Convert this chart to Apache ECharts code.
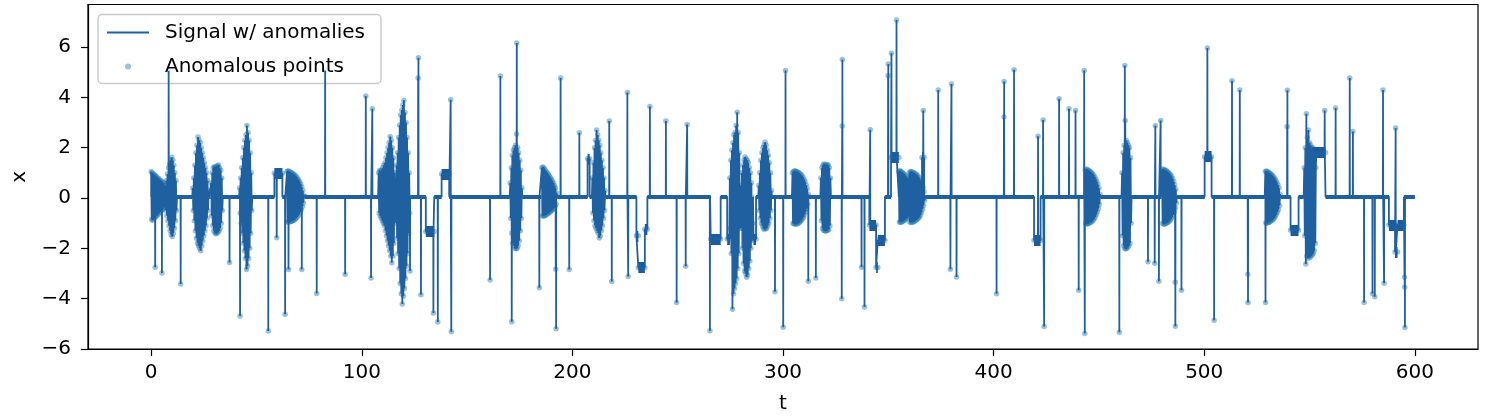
<!DOCTYPE html>
<html><head><meta charset="utf-8">
<script src="https://cdn.jsdelivr.net/npm/echarts@6/dist/echarts.min.js"></script>
<style>html,body{margin:0;padding:0;background:#fff}#c{width:1488px;height:416px}</style>
</head><body><div id="c"></div>
<script>
// ---------------- data ----------------
const xTicks = [0, 100, 200, 300, 400, 500, 600];
const yTicks = [-6, -4, -2, 0, 2, 4, 6];
const signalStart = 0, signalEnd = 600;
const baselineLevel = 0.05;

// isolated spikes (time, value)
const spikeT = [1.9,5.1,8.3,14.0,37.2,42.2,55.6,59.6,63.6,65.2,71.5,78.6,82.6,92.1,101.9,104.4,105.0,122.9,126.75,126.9,128.1,134.0,136.1,142.2,142.5,160.9,165.8,171.2,173.6,184.3,192.1,192.25,194.4,198.5,203.3,217.5,218.7,226.1,226.5,236.8,244.4,249.5,253.8,254.5,265.3,296.2,300.1,301.2,312.0,315.6,327.9,328.1,328.2,337.3,338.7,341.4,349.9,350.0,351.5,353.9,366.6,373.7,379.5,380.0,382.4,401.4,404.9,405.0,409.7,421.1,423.5,424.0,431.1,435.8,438.9,440.4,443.0,443.3,459.7,462.3,473.3,476.5,476.8,478.5,479.3,486.2,486.3,489.2,501.5,504.7,513.2,516.9,520.7,520.8,529.1,539.4,539.5,557.2,562.4,569.1,570.6,575.9,579.9,581.0,584.9,585.4,590.9,595.1,595.2,595.3];
const spikeV = [-2.75,-2.98,5.06,-3.42,-2.56,-4.69,-5.28,-1.58,-4.62,-2.84,-2.84,-3.79,5.07,-3.03,4.05,-3.18,3.55,-2.9,4.77,5.57,-3.84,-4.57,-4.93,3.9,-5.31,-3.26,4.85,-4.92,6.16,-3.57,-2.83,-5.2,4.77,-2.84,2.59,3.06,-3.32,4.19,-3.12,3.64,3.06,-4.15,-2.71,2.92,-5.27,-3.72,-5.14,5.07,-3.31,-3.18,-4.0,2.86,5.5,-2.75,-4.33,2.71,4.86,5.33,5.75,7.07,3.48,4.29,-2.83,4.53,-3.14,-3.8,3.22,4.63,5.1,2.45,3.1,-5.11,3.94,3.55,3.48,-3.67,5.07,-5.38,-5.33,5.27,-2.53,-2.59,2.87,-3.31,3.08,-3.35,-5.1,-3.67,5.96,-4.86,4.66,4.29,-3.03,-4.15,-4.15,2.84,4.28,3.48,3.58,4.77,2.64,-4.15,-3.8,-3.92,4.29,-3.39,2.78,-3.15,-3.55,-5.15];

// level shifts (start, end, level)
const levelStart = [58.5,130.4,137.9,207.2,230.4,231.3,234.4,265.7,273.5,286.0,341.0,344.2,345.0,351.3,366.0,419.2,500.2,541.0,551.2,587.7,590.6,591.8];
const levelEnd   = [62.3,134.4,141.5,208.2,231.3,234.4,235.6,270.4,274.8,287.2,344.2,345.0,348.4,355.0,367.0,422.3,503.5,544.8,557.6,590.6,591.8,594.8];
const levelValue = [0.98,-1.33,0.95,1.56,-1.5,-2.77,-1.24,-1.63,-1.63,-1.63,-1.07,-2.76,-1.68,1.61,1.61,-1.68,1.64,-1.28,1.81,-1.07,-2.15,-1.07];

// oscillating bursts: start time, sample step, sampled values
const burstStart = [0,6.75,19.75,28.5,42.0,64.5,108.0,116.0,170.5,185.5,209.5,274.75,280.0,288.5,304.5,318.0,355.0,443.5,461.0,480.0,529.0,547.5];
const burstStep = 0.25;
const burstValues = [
 [1.05,-0.85,1.0,-0.88,0.95,-0.8,0.92,-0.78,0.88,-0.72,0.85,-0.7,0.8,-0.65,0.78,-0.6,0.72,-0.55,0.7,-0.5,0.66,-0.46,0.62,-0.42,0.6,-0.38,0.3],
 [0.5,-0.5,0.7,-0.7,0.95,-0.9,1.2,-1.1,1.35,-1.3,1.5,-1.45,1.62,-1.53,1.5,-1.4,1.3,-1.2,1.0,-0.9,0.7,-0.5],
 [0.4,-0.5,0.8,-0.9,1.3,-1.3,1.8,-1.6,2.1,-1.8,2.42,-1.9,2.3,-2.0,2.2,-2.1,2.0,-1.9,1.8,-1.7,1.6,-1.5,1.4,-1.3,1.2,-1.1,1.0,-0.8,0.7,-0.5,0.3],
 [0.6,-0.7,1.0,-1.1,1.2,-1.3,1.25,-1.38,1.2,-1.42,1.25,-1.4,1.28,-1.35,1.31,-1.3,1.2,-1.2,1.1,-1.0,0.8,-0.5],
 [0.4,-0.6,0.8,-1.0,1.2,-1.4,1.6,-1.8,2.0,-2.1,2.3,-2.4,2.5,-2.84,2.88,-2.7,2.6,-2.4,2.3,-2.0,1.8,-1.4,1.0,-0.5],
 [1.05,-0.95,1.08,-0.95,1.05,-0.94,1.03,-0.93,1.0,-0.92,0.98,-0.9,0.95,-0.88,0.92,-0.85,0.88,-0.8,0.84,-0.76,0.78,-0.7,0.72,-0.64,0.65,-0.56,0.56,-0.46,0.45,-0.34,0.3,-0.2,0.1],
 [1.0,-0.6,1.1,-0.7,1.08,-0.8,1.1,-0.9,1.2,-1.0,1.3,-1.1,1.4,-1.3,1.6,-1.5,1.8,-1.7,2.0,-1.9,2.2,-2.1,2.44,-2.3,2.3,-2.57,2.0,-2.3,1.6,-1.8,1.0,-0.8],
 [0.8,-1.0,1.3,-1.6,1.8,-2.2,2.4,-2.8,2.9,-3.4,3.3,-3.8,3.5,-4.21,3.7,-3.9,3.88,-3.6,3.4,-3.2,3.0,-2.7,2.4,-2.2,1.8,-1.4,1.0,-0.6],
 [0.6,-0.8,1.2,-1.4,1.7,-1.8,1.9,-1.9,2.0,-2.0,2.1,-2.02,2.54,-2.0,2.0,-1.9,1.8,-1.7,1.5,-1.3,1.1,-0.8,0.4],
 [1.2,-0.7,1.23,-0.72,1.18,-0.7,1.12,-0.68,1.06,-0.66,1.0,-0.63,0.95,-0.6,0.88,-0.57,0.82,-0.53,0.75,-0.5,0.68,-0.45,0.6,-0.4,0.5,-0.33,0.4,-0.25,0.2],
 [0.8,-0.6,1.4,-0.9,2.0,-1.1,2.3,-1.2,2.7,-1.3,2.5,-1.4,2.3,-1.59,2.1,-1.5,1.8,-1.3,1.5,-1.1,1.2,-0.8,0.8,-0.5,0.3],
 [0.8,-1.2,1.5,-2.2,1.9,-4.42,2.2,-3.8,2.5,-3.6,2.6,-3.4,2.88,-3.2,3.41,-2.8,2.6,-2.2,1.8,-1.2],
 [0.5,-1.2,1.0,-2.0,1.3,-2.6,1.5,-2.9,1.63,-3.0,1.55,-3.15,1.5,-3.05,1.4,-2.8,1.2,-2.5,1.0,-2.0,0.6,-1.7,-1.0],
 [0.5,-0.5,1.0,-0.8,1.5,-1.0,1.8,-1.1,2.0,-1.2,2.1,-1.25,2.22,-1.2,2.1,-1.2,1.9,-1.1,1.7,-1.0,1.4,-0.8,1.0,-0.5,0.3],
 [1.0,-1.0,1.05,-1.02,1.08,-1.04,1.06,-1.03,1.05,-1.02,1.03,-1.0,1.0,-0.97,0.97,-0.93,0.93,-0.88,0.88,-0.82,0.82,-0.75,0.74,-0.66,0.65,-0.55,0.52,-0.42,0.38,-0.25,0.15],
 [0.8,-0.9,1.2,-1.2,1.3,-1.28,1.35,-1.3,1.32,-1.31,1.3,-1.3,1.33,-1.28,1.3,-1.25,1.2,-1.1,0.8],
 [1.05,-0.95,1.09,-0.97,1.05,-0.95,1.02,-0.93,0.98,-0.9,0.95,-0.88,0.9,-0.84,0.86,-0.8,0.8,-0.76,0.75,-0.72,1.0,-0.95,1.05,-0.97,1.04,-0.96,1.02,-0.95,1.0,-0.93,0.98,-0.9,0.95,-0.87,0.92,-0.84,0.88,-0.8,0.82,-0.75,0.75,-0.68,0.66,-0.58,0.55,-0.45,0.42,-0.3,0.25,-0.1],
 [1.1,-1.0,1.15,-1.04,1.12,-1.02,1.1,-1.0,1.07,-0.98,1.04,-0.95,1.0,-0.92,0.95,-0.88,0.9,-0.82,0.83,-0.75,0.75,-0.66,0.66,-0.55,0.55,-0.42,0.4,-0.25,0.15],
 [1.0,-1.5,1.8,-1.9,2.1,-2.0,3.08,-2.03,2.29,-2.0,2.2,-1.95,2.1,-1.9,2.0,-1.8,1.6,-1.0],
 [1.1,-1.0,1.15,-1.04,1.12,-1.03,1.1,-1.01,1.08,-0.99,1.05,-0.96,1.01,-0.93,0.97,-0.88,0.92,-0.83,0.85,-0.76,0.77,-0.67,0.66,-0.55,0.52,-0.4,0.35,-0.2],
 [1.05,-0.98,1.07,-1.0,1.05,-0.98,1.02,-0.96,0.99,-0.94,0.96,-0.91,0.92,-0.88,0.88,-0.84,0.83,-0.79,0.77,-0.73,0.7,-0.66,0.62,-0.57,0.52,-0.46,0.4,-0.3,0.15],
 [1.2,-1.5,2.0,-2.62,3.35,-2.3,2.4,-2.4,2.7,-2.3,2.2,-2.35,2.1,-2.3,2.0,-2.25,2.0,-2.2,1.9,-2.1,1.8,-1.8,1.2]
];

// ---------------- build series from the data ----------------
const LINE_COLOR = '#1f60a0';
const DOT_COLOR = '#1f77b4';
const FONT = 'DejaVu Sans';

function levelAt(t) {
  for (let i = 0; i < levelStart.length; i++) {
    if (t >= levelStart[i] && t <= levelEnd[i]) return levelValue[i];
  }
  return baselineLevel;
}

const pts = [];
const anomalies = [];
const busy = [];
pts.push([signalStart, baselineLevel]);

for (let i = 0; i < levelStart.length; i++) {
  const a = levelStart[i], b = levelEnd[i], L = levelValue[i];
  const contPrev = i > 0 && Math.abs(levelEnd[i - 1] - a) < 1e-9;
  const contNext = i < levelStart.length - 1 && Math.abs(levelStart[i + 1] - b) < 1e-9;
  if (!contPrev) pts.push([a, baselineLevel]);
  pts.push([a, L], [b, L]);
  if (!contNext) pts.push([b, baselineLevel]);
  anomalies.push([a, L], [b, L]);
  busy.push([a, b]);
}

burstStart.forEach((t0, k) => {
  const vals = burstValues[k];
  const tLast = t0 + (vals.length - 1) * burstStep;
  const pre = t0 - burstStep, post = tLast + burstStep;
  if (pre >= signalStart) pts.push([pre, levelAt(pre)]);
  vals.forEach((v, i) => {
    const t = t0 + i * burstStep;
    pts.push([t, v]);
    anomalies.push([t, v]);
  });
  pts.push([post, levelAt(post)]);
  busy.push([Math.max(signalStart, pre), post]);
});

spikeT.forEach((t, i) => {
  const b = levelAt(t);
  pts.push([t - 0.06, b], [t, spikeV[i]], [t + 0.06, b]);
  anomalies.push([t, spikeV[i]]);
});

pts.push([signalEnd, baselineLevel]);
pts.sort((p, q) => p[0] - q[0]);

// baseline stretches = time not covered by bursts or level shifts
busy.sort((p, q) => p[0] - q[0]);
const baseSegs = [];
let cur = signalStart;
busy.forEach(([a, b]) => {
  if (a > cur) baseSegs.push({ coords: [[cur, baselineLevel], [a, baselineLevel]] });
  cur = Math.max(cur, b);
});
if (cur < signalEnd) baseSegs.push({ coords: [[cur, baselineLevel], [signalEnd, baselineLevel]] });

const levelSegs = levelStart.map((a, i) => ({ coords: [[a, levelValue[i]], [levelEnd[i], levelValue[i]]] }));

const minus = v => String(v).replace('-', '\u2212');

const chart = echarts.init(document.getElementById('c'), null, { renderer: 'canvas' });
chart.setOption({
  animation: false,
  backgroundColor: '#ffffff',
  grid: { left: 88, right: 10, top: 4.5, bottom: 67, containLabel: false, outerBoundsMode: 'none',
          show: true, borderColor: '#000', borderWidth: 1.2, backgroundColor: 'transparent' },
  xAxis: {
    type: 'value', min: -30, max: 630,
    name: 't', nameLocation: 'middle', nameGap: 45,
    nameTextStyle: { fontFamily: FONT, fontSize: 20, color: '#000' },
    axisLine: { show: true, onZero: false, lineStyle: { color: '#000', width: 1.2 } },
    axisTick: { show: true, length: 7, customValues: xTicks, lineStyle: { color: '#000', width: 1.2 } },
    axisLabel: { customValues: xTicks, margin: 14, fontFamily: FONT, fontSize: 20, color: '#000' },
    splitLine: { show: false }
  },
  yAxis: {
    type: 'value', min: -6.0, max: 7.69,
    name: 'x', nameLocation: 'middle', nameGap: 58, nameRotate: 90,
    nameTextStyle: { fontFamily: FONT, fontSize: 20, color: '#000' },
    axisLine: { show: true, onZero: false, lineStyle: { color: '#000', width: 1.2 } },
    axisTick: { show: true, length: 7, customValues: yTicks, lineStyle: { color: '#000', width: 1.2 } },
    axisLabel: { customValues: yTicks, margin: 17, fontFamily: FONT, fontSize: 20, color: '#000', formatter: minus },
    splitLine: { show: false }
  },
  legend: {
    data: [
      { name: 'Signal w/ anomalies', itemStyle: { opacity: 0 } },
      { name: 'Anomalous points' }
    ],
    orient: 'vertical', left: 98, top: 14.5,
    padding: [8, 16, 7, 8],
    itemWidth: 42, itemHeight: 6, itemGap: 14,
    backgroundColor: 'rgba(255,255,255,0.8)', borderColor: '#cccccc', borderWidth: 1.5, borderRadius: 4,
    selectedMode: false,
    textStyle: { fontFamily: FONT, fontSize: 20, color: '#000', padding: [0, 0, 0, 11] }
  },
  series: [
    {
      name: 'baseline', type: 'lines', coordinateSystem: 'cartesian2d', z: 3,
      silent: true, data: baseSegs,
      lineStyle: { color: LINE_COLOR, width: 4, opacity: 1, cap: 'butt' }
    },
    {
      name: 'levels', type: 'lines', coordinateSystem: 'cartesian2d', z: 3,
      silent: true, data: levelSegs,
      lineStyle: { color: '#1d5c9c', width: 11, opacity: 1, cap: 'butt' }
    },
    {
      name: 'Anomalous points', type: 'scatter', z: 2,
      data: anomalies, symbol: 'circle', symbolSize: 5.5,
      itemStyle: { color: DOT_COLOR, opacity: 0.45 }
    },
    {
      name: 'Signal w/ anomalies', type: 'line', z: 4,
      data: pts, showSymbol: false, symbol: 'none', sampling: null,
      lineStyle: { color: LINE_COLOR, width: 1.8 },
      itemStyle: { color: LINE_COLOR }
    }
  ]
});
</script>
</body></html>
